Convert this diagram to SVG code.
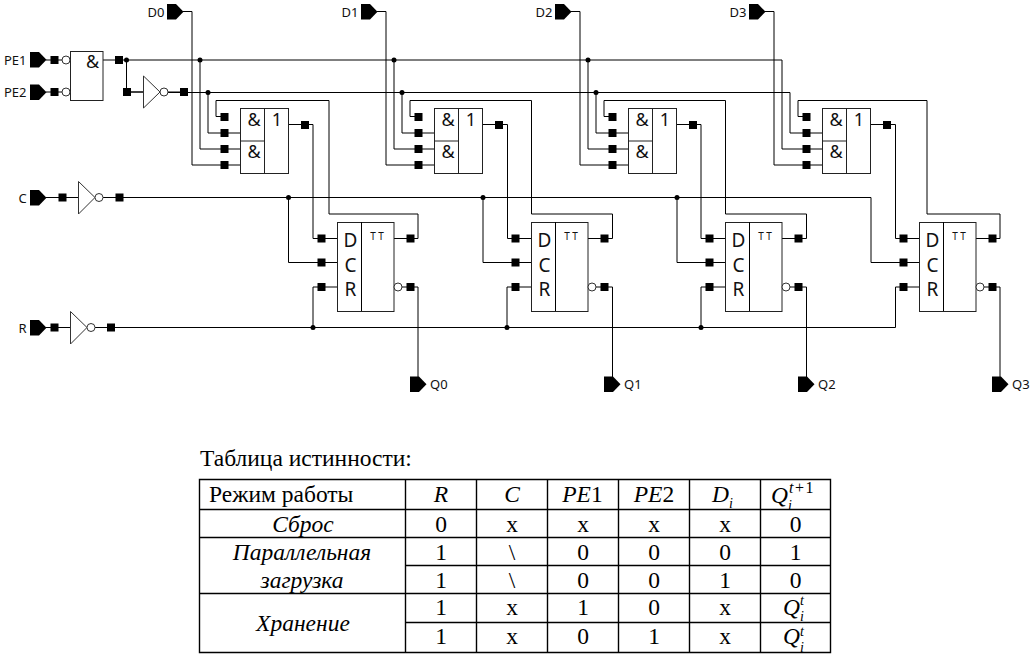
<svg xmlns="http://www.w3.org/2000/svg" width="1033" height="658" viewBox="0 0 1033 658">
<style>
.w{fill:none;stroke:#000;stroke-width:1}
.b{fill:#fff;stroke:#333;stroke-width:1}
.gb{fill:#fff;stroke:#222;stroke-width:1}
.t{fill:none;stroke:#000;stroke-width:1.4}
.l{font-family:"Noto Sans","DejaVu Sans",sans-serif;font-size:13px;fill:#111}
.s{font-family:"Noto Sans","DejaVu Sans",sans-serif;font-size:18px;fill:#111;text-anchor:middle}
.ff{font-family:"Noto Sans","DejaVu Sans",sans-serif;font-size:19px;fill:#111;text-anchor:middle}
.tt{font-family:"Noto Sans","DejaVu Sans",sans-serif;font-size:10px;fill:#111;text-anchor:middle}
.c{font-family:"Liberation Serif","Times New Roman",serif;font-size:23.500px;fill:#000;text-anchor:middle}
.i{font-style:italic}
.m{font-size:14px;text-anchor:start}
.st{text-anchor:start}
</style>
<defs>
<rect id="sq" x="-4" y="-4" width="8" height="8" fill="#000"/>
<circle id="dot" r="2.500" fill="#000"/>
<polygon id="pin" points="0,0 9,0 16.500,7.700 9,15.400 0,15.400" fill="#000"/>
</defs>
<g id="connectors">
<path class="w" d="M183 11.500H192V165H240"/>
<path class="w" d="M377 11.500H386V165H434"/>
<path class="w" d="M571 11.500H580V165H628"/>
<path class="w" d="M765 11.500H774V165H822"/>
<path class="w" d="M103 60H782V149H822"/>
<path class="w" d="M126.500 60V92H143"/>
<path class="w" d="M200 60V149H240M394 60V149H434M588 60V149H628"/>
<path class="w" d="M168 92.500H790V133H822"/>
<path class="w" d="M208 92.500V133H240M402 92.500V133H434M596 92.500V133H628"/>
<path class="w" d="M224 116.500H216V100.500H329V214H418V238.500H394"/>
<path class="w" d="M418 116.500H410V100.500H531.500V214H612.500V238.500H588"/>
<path class="w" d="M612 116.500H604V100.500H725.500V214H806.500V238.500H782"/>
<path class="w" d="M806 116.500H798V100.500H927V214H1000V238.500H976"/>
<path class="w" d="M289 124.500H313V238.500H337"/>
<path class="w" d="M483 124.500H507.500V238.500H531"/>
<path class="w" d="M677 124.500H701V238.500H725"/>
<path class="w" d="M871 124.500H895.500V238.500H919"/>
<path class="w" d="M46 197.500H78M103 197.500H871V262.500H919"/>
<path class="w" d="M288.500 197.500V262.500H337M483 197.500V262.500H531M677 197.500V262.500H725"/>
<path class="w" d="M46 327.500H70M95 327.500H895.500V287H919"/>
<path class="w" d="M313 327.500V287H337M507 327.500V287H531M701 327.500V287H725"/>
<path class="w" d="M402 287H418V384M596 287H612.500V384M790 287H806.500V384M984 287H1000V384"/>
<path class="w" d="M46 60H62M46 92H62M98 60H103"/>
<use href="#dot" x="126.500" y="60"/><use href="#dot" x="200" y="60"/><use href="#dot" x="394" y="60"/><use href="#dot" x="588" y="60"/>
<use href="#dot" x="208" y="92.500"/><use href="#dot" x="402" y="92.500"/><use href="#dot" x="596" y="92.500"/>
<use href="#dot" x="288.500" y="197.500"/><use href="#dot" x="483" y="197.500"/><use href="#dot" x="677" y="197.500"/>
<use href="#dot" x="313" y="327.500"/><use href="#dot" x="507" y="327.500"/><use href="#dot" x="701" y="327.500"/>
<use href="#sq" x="54.500" y="60"/><use href="#sq" x="54.500" y="92"/><use href="#sq" x="119" y="60"/><use href="#sq" x="127" y="92"/><use href="#sq" x="184" y="92"/>
<use href="#sq" x="62.500" y="197.500"/><use href="#sq" x="119.500" y="197.500"/><use href="#sq" x="54.500" y="327.500"/><use href="#sq" x="111" y="327.500"/>
<use href="#sq" x="224.500" y="117"/><use href="#sq" x="224.500" y="133"/><use href="#sq" x="224.500" y="149"/><use href="#sq" x="224.500" y="165"/><use href="#sq" x="305" y="125"/><use href="#sq" x="321.500" y="238.500"/><use href="#sq" x="321.500" y="262.500"/><use href="#sq" x="321.500" y="287"/><use href="#sq" x="410.500" y="238.500"/><use href="#sq" x="410.500" y="287"/>
<use href="#sq" x="418.500" y="117"/><use href="#sq" x="418.500" y="133"/><use href="#sq" x="418.500" y="149"/><use href="#sq" x="418.500" y="165"/><use href="#sq" x="499" y="125"/><use href="#sq" x="515.500" y="238.500"/><use href="#sq" x="515.500" y="262.500"/><use href="#sq" x="515.500" y="287"/><use href="#sq" x="604.500" y="238.500"/><use href="#sq" x="604.500" y="287"/>
<use href="#sq" x="612.500" y="117"/><use href="#sq" x="612.500" y="133"/><use href="#sq" x="612.500" y="149"/><use href="#sq" x="612.500" y="165"/><use href="#sq" x="693" y="125"/><use href="#sq" x="709.500" y="238.500"/><use href="#sq" x="709.500" y="262.500"/><use href="#sq" x="709.500" y="287"/><use href="#sq" x="798.500" y="238.500"/><use href="#sq" x="798.500" y="287"/>
<use href="#sq" x="806.500" y="117"/><use href="#sq" x="806.500" y="133"/><use href="#sq" x="806.500" y="149"/><use href="#sq" x="806.500" y="165"/><use href="#sq" x="887" y="125"/><use href="#sq" x="903.500" y="238.500"/><use href="#sq" x="903.500" y="262.500"/><use href="#sq" x="903.500" y="287"/><use href="#sq" x="992.500" y="238.500"/><use href="#sq" x="992.500" y="287"/>
</g>
<g id="pin-PE1"><use href="#pin" x="30" y="52"/><text class="l" x="4" y="64.500">PE1</text></g>
<g id="pin-PE2"><use href="#pin" x="30" y="84.500"/><text class="l" x="4" y="97">PE2</text></g>
<g id="pin-C"><use href="#pin" x="30" y="190"/><text class="l" x="18.500" y="202.500">C</text></g>
<g id="pin-R"><use href="#pin" x="30" y="320"/><text class="l" x="18.500" y="332.500">R</text></g>
<g id="pin-D0"><use href="#pin" x="167" y="4"/><text class="l" x="147.500" y="16.500">D0</text></g>
<g id="pin-D1"><use href="#pin" x="361" y="4"/><text class="l" x="341.500" y="16.500">D1</text></g>
<g id="pin-D2"><use href="#pin" x="555" y="4"/><text class="l" x="535.500" y="16.500">D2</text></g>
<g id="pin-D3"><use href="#pin" x="749" y="4"/><text class="l" x="729.500" y="16.500">D3</text></g>
<g id="pin-Q0"><use href="#pin" x="410" y="376.500"/><text class="l" x="430" y="389">Q0</text></g>
<g id="pin-Q1"><use href="#pin" x="604" y="376.500"/><text class="l" x="624" y="389">Q1</text></g>
<g id="pin-Q2"><use href="#pin" x="798" y="376.500"/><text class="l" x="818" y="389">Q2</text></g>
<g id="pin-Q3"><use href="#pin" x="992" y="376.500"/><text class="l" x="1012" y="389">Q3</text></g>
<g id="and-pe">
<line class="w" x1="62" y1="60" x2="70" y2="60"/><line class="w" x1="62" y1="92" x2="70" y2="92"/>
<rect class="gb" x="70.500" y="51.500" width="32.500" height="49"/>
<circle class="b" cx="66" cy="60" r="4"/><circle class="b" cx="66" cy="92" r="4"/>
<text class="s" x="92.500" y="68">&amp;</text>
</g>
<g id="not-pe"><path class="w" d="M131 92H143.500M168 92H180"/><polygon class="b" points="143.500,76 160,92 143.500,108"/><circle class="b" cx="164" cy="92" r="4"/></g>
<g id="not-c"><path class="w" d="M66 197.500H78.500"/><polygon class="b" points="78.500,181.500 95,197.500 78.500,214"/><circle class="b" cx="99" cy="197.500" r="4"/></g>
<g id="not-r"><path class="w" d="M58 327.500H70.500"/><polygon class="b" points="70.500,311.500 87,327.500 70.500,344"/><circle class="b" cx="91" cy="327.500" r="4"/></g>
<g id="gate0"><rect class="gb" x="240.500" y="108.500" width="48" height="65"/><path class="gb" d="M264.500 108.500V173.500M240.500 141H264.500"/><text class="s" x="254" y="125.500">&amp;</text><text class="s" x="254" y="158">&amp;</text><text class="s" x="277" y="125.500">1</text></g>
<g id="gate1" transform="translate(194 0)"><rect class="gb" x="240.500" y="108.500" width="48" height="65"/><path class="gb" d="M264.500 108.500V173.500M240.500 141H264.500"/><text class="s" x="254" y="125.500">&amp;</text><text class="s" x="254" y="158">&amp;</text><text class="s" x="277" y="125.500">1</text></g>
<g id="gate2" transform="translate(388 0)"><rect class="gb" x="240.500" y="108.500" width="48" height="65"/><path class="gb" d="M264.500 108.500V173.500M240.500 141H264.500"/><text class="s" x="254" y="125.500">&amp;</text><text class="s" x="254" y="158">&amp;</text><text class="s" x="277" y="125.500">1</text></g>
<g id="gate3" transform="translate(582 0)"><rect class="gb" x="240.500" y="108.500" width="48" height="65"/><path class="gb" d="M264.500 108.500V173.500M240.500 141H264.500"/><text class="s" x="254" y="125.500">&amp;</text><text class="s" x="254" y="158">&amp;</text><text class="s" x="277" y="125.500">1</text></g>
<g id="ff0"><rect class="gb" x="337.500" y="222.500" width="56.500" height="89"/><line class="w" x1="361.500" y1="222" x2="361.500" y2="311"/><circle class="b" cx="398" cy="287" r="4"/><text class="ff" x="350.500" y="247">D</text><text class="ff" x="350.500" y="271.500">C</text><text class="ff" x="350.500" y="295.500">R</text><text class="tt" x="377" y="240">T T</text></g>
<g id="ff1" transform="translate(194 0)"><rect class="gb" x="337.500" y="222.500" width="56.500" height="89"/><line class="w" x1="361.500" y1="222" x2="361.500" y2="311"/><circle class="b" cx="398" cy="287" r="4"/><text class="ff" x="350.500" y="247">D</text><text class="ff" x="350.500" y="271.500">C</text><text class="ff" x="350.500" y="295.500">R</text><text class="tt" x="377" y="240">T T</text></g>
<g id="ff2" transform="translate(388 0)"><rect class="gb" x="337.500" y="222.500" width="56.500" height="89"/><line class="w" x1="361.500" y1="222" x2="361.500" y2="311"/><circle class="b" cx="398" cy="287" r="4"/><text class="ff" x="350.500" y="247">D</text><text class="ff" x="350.500" y="271.500">C</text><text class="ff" x="350.500" y="295.500">R</text><text class="tt" x="377" y="240">T T</text></g>
<g id="ff3" transform="translate(582 0)"><rect class="gb" x="337.500" y="222.500" width="56.500" height="89"/><line class="w" x1="361.500" y1="222" x2="361.500" y2="311"/><circle class="b" cx="398" cy="287" r="4"/><text class="ff" x="350.500" y="247">D</text><text class="ff" x="350.500" y="271.500">C</text><text class="ff" x="350.500" y="295.500">R</text><text class="tt" x="377" y="240">T T</text></g>
<g id="table">
<text class="c st" x="200" y="466">Таблица истинности:</text>
<path class="t" d="M199.500 479.500H830.500V652.500H199.500ZM405.500 479.500V652.500M476.500 479.500V652.500M547.500 479.500V652.500M618.500 479.500V652.500M689.500 479.500V652.500M760.500 479.500V652.500M199.500 509.500H830.500M199.500 537.500H830.500M405.500 565.500H830.500M199.500 593.500H830.500M405.500 622.500H830.500"/>
<text class="c st" x="209" y="502">Режим работы</text>
<text class="c i" x="441" y="502">R</text><text class="c i" x="512" y="502">C</text>
<text class="c" x="582.500" y="502"><tspan class="i">PE</tspan>1</text>
<text class="c" x="654" y="502"><tspan class="i">PE</tspan>2</text>
<text class="c i st" x="712" y="502">D</text><text class="c i m" x="729" y="508">i</text>
<text class="c i st" x="771" y="503">Q</text><text class="c i m" x="788" y="510">i</text><text class="c m" x="789" y="493" style="font-size:16px" letter-spacing="1.500"><tspan class="i">t</tspan>+1</text>
<text class="c i" x="303" y="532">Сброс</text>
<text class="c i" x="302" y="560">Параллельная</text>
<text class="c i" x="302" y="588">загрузка</text>
<text class="c i" x="303" y="631">Хранение</text>
<text class="c" x="441" y="532">0</text><text class="c" x="512" y="532">x</text><text class="c" x="583" y="532">x</text><text class="c" x="654" y="532">x</text><text class="c" x="725" y="532">x</text><text class="c" x="795.500" y="532">0</text>
<text class="c" x="441" y="560">1</text><text class="c" x="512" y="560">\</text><text class="c" x="583" y="560">0</text><text class="c" x="654" y="560">0</text><text class="c" x="725" y="560">0</text><text class="c" x="795.500" y="560">1</text>
<text class="c" x="441" y="588">1</text><text class="c" x="512" y="588">\</text><text class="c" x="583" y="588">0</text><text class="c" x="654" y="588">0</text><text class="c" x="725" y="588">1</text><text class="c" x="795.500" y="588">0</text>
<text class="c" x="441" y="615">1</text><text class="c" x="512" y="615">x</text><text class="c" x="583" y="615">1</text><text class="c" x="654" y="615">0</text><text class="c" x="725" y="615">x</text>
<text class="c i st" x="783" y="615">Q</text><text class="c i m" x="800" y="605">t</text><text class="c i m" x="800" y="620.500">i</text>
<text class="c" x="441" y="644">1</text><text class="c" x="512" y="644">x</text><text class="c" x="583" y="644">0</text><text class="c" x="654" y="644">1</text><text class="c" x="725" y="644">x</text>
<text class="c i st" x="783" y="644">Q</text><text class="c i m" x="800" y="636">t</text><text class="c i m" x="800" y="652">i</text>
</g>
</svg>
